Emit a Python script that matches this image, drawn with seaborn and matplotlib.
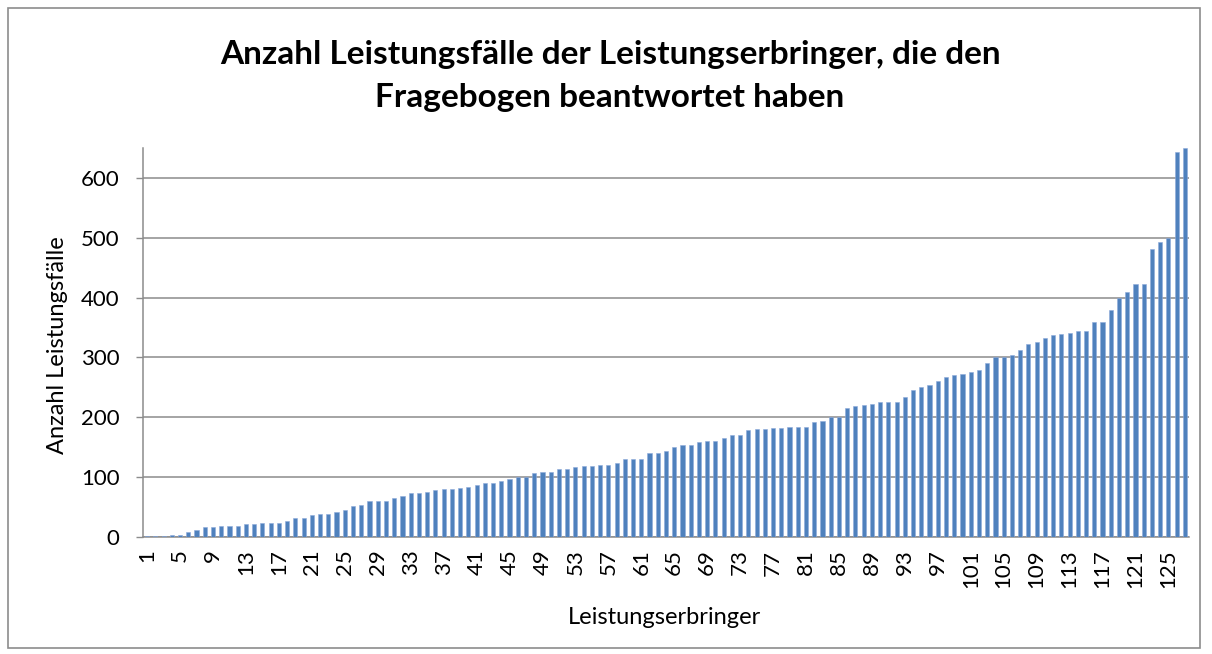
import matplotlib
matplotlib.use("Agg")
import matplotlib.pyplot as plt
import seaborn as sns
import pandas as pd
from matplotlib.patches import Rectangle

TITLE = "Anzahl Leistungsfälle der Leistungserbringer, die den\nFragebogen beantwortet haben"
X_LABEL = "Leistungserbringer"
Y_LABEL = "Anzahl Leistungsfälle"
BAR_BLUE = "#4F81BD"

# values, sorted ascending (127 providers)
faelle = [
    1, 1, 2, 4, 4, 8, 12, 16, 16, 18,
    18, 18, 21, 21, 23, 24, 24, 27, 31, 31,
    37, 39, 39, 41, 45, 51, 53, 60, 60, 60,
    66, 69, 74, 74, 76, 78, 80, 80, 82, 84,
    87, 91, 91, 94, 97, 100, 100, 107, 109, 109,
    113, 113, 117, 119, 119, 121, 121, 123, 130, 130,
    130, 140, 140, 144, 150, 153, 153, 159, 161, 161,
    165, 170, 170, 178, 180, 180, 182, 182, 184, 184,
    184, 192, 194, 200, 200, 215, 219, 221, 223, 225,
    225, 225, 234, 246, 250, 254, 261, 267, 271, 273,
    275, 279, 290, 300, 300, 304, 312, 323, 326, 333,
    337, 339, 341, 345, 345, 359, 359, 380, 399, 409,
    423, 423, 481, 493, 500, 644, 650,
]
erbringer = [str(i + 1) for i in range(len(faelle))]
y_ticks = [0, 100, 200, 300, 400, 500, 600]

sns.set_style("white")
plt.rcParams["font.family"] = ["Lato", "DejaVu Sans"]
plt.rcParams["text.color"] = "black"
plt.rcParams["xtick.labelcolor"] = "black"
plt.rcParams["ytick.labelcolor"] = "black"

df = pd.DataFrame({"erbringer": erbringer, "faelle": faelle})

fig = plt.figure(figsize=(12.12, 6.54), dpi=100)
ax = fig.add_axes([143 / 1212, 1 - 537 / 654, (1189 - 143) / 1212, (537 - 148) / 654])

sns.barplot(data=df, x="erbringer", y="faelle", order=erbringer, color=BAR_BLUE,
            width=0.5, saturation=1, edgecolor="#8EAADB", linewidth=0.4, ax=ax, zorder=3)

ax.set_xlim(-0.5, len(faelle) - 0.5)
ax.set_ylim(0, 650)
ax.set_yticks(y_ticks)
ax.set_yticklabels([str(v) for v in y_ticks], fontsize=16)
ax.yaxis.grid(True, color="#8c8c8c", linewidth=1.1, zorder=0)
ax.xaxis.grid(False)

tick_pos = list(range(0, len(faelle), 4))
ax.set_xticks(tick_pos)
ax.set_xticklabels([erbringer[i] for i in tick_pos], rotation=90, fontsize=16)

ax.tick_params(axis="y", length=5, width=1, color="#8c8c8c", pad=12, left=True, labelcolor="black")
ax.tick_params(axis="x", length=0, pad=9, labelcolor="black")
ax.set_xlabel("")
ax.set_ylabel("")

for side in ["top", "right"]:
    ax.spines[side].set_visible(False)
for side in ["left", "bottom"]:
    ax.spines[side].set_color("#8c8c8c")
    ax.spines[side].set_linewidth(1.1)

fig.text(610 / 1212, 1 - 76 / 654, TITLE, ha="center", va="center", color="black",
         fontsize=24, fontweight="bold", linespacing=1.6)
fig.text(58 / 1212, 1 - 345 / 654, Y_LABEL, rotation=90, ha="center", va="center",
         fontsize=17, color="black")
fig.text(665 / 1212, 1 - 617 / 654, X_LABEL, ha="center", va="center", fontsize=17, color="black")

fig.patches.append(Rectangle((8 / 1212, 6 / 654), 1192 / 1212, 640 / 654, transform=fig.transFigure,
                             fill=False, edgecolor="#8c8c8c", linewidth=1.2))

fig.savefig("out.png", dpi=100, facecolor="white")
